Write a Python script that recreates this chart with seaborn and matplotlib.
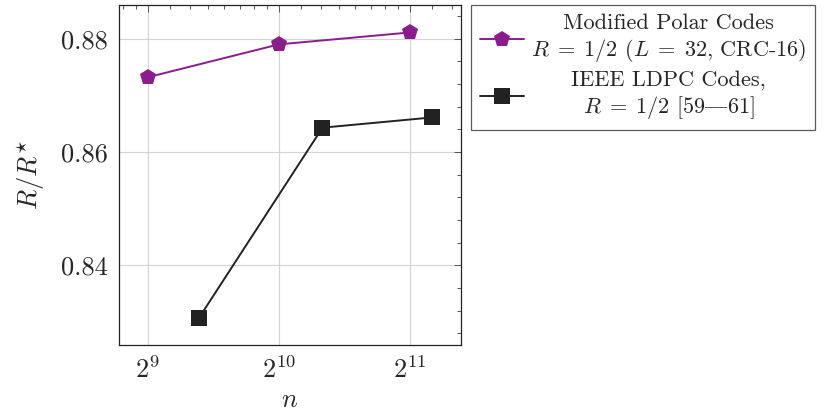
import numpy as np
import pandas as pd
import matplotlib
matplotlib.use("Agg")
import matplotlib.pyplot as plt
import matplotlib.ticker as mticker
from matplotlib import font_manager
from matplotlib.ft2font import FT2Font
from matplotlib.transforms import Affine2D
import seaborn as sns

# data
polar_n = [512, 1024, 2048]
polar_ratio = [0.8732, 0.8790, 0.8811]
ldpc_n = [672, 1290, 2300]
ldpc_ratio = [0.8308, 0.8643, 0.8661]

# find the code point where cmr10 keeps its en dash
cm = FT2Font(font_manager.findfont('cmr10'))
dash = '-'
for code, idx in cm.get_charmap().items():
    if cm.get_glyph_name(idx) == 'endash':
        dash = chr(code)
        break

polar_label = "Modified Polar Codes\n$R\\;=\\;1/2$ ($L\\;=\\;32$, CRC-16)"
ldpc_label = "IEEE LDPC Codes,\n$R\\;=\\;1/2$ [59" + dash + "61]"

sns.set_theme(style="white")
plt.rcParams['font.family'] = ['cmr10', 'DejaVu Serif']
plt.rcParams['mathtext.fontset'] = 'cm'
plt.rcParams['axes.formatter.use_mathtext'] = True

polar_df = pd.DataFrame({'n': polar_n, 'ratio': polar_ratio})
ldpc_df = pd.DataFrame({'n': ldpc_n, 'ratio': ldpc_ratio})

fig = plt.figure(figsize=(8.27, 4.13), dpi=100)
ax = fig.add_axes([119 / 827, 1 - 345.3 / 413, (460.7 - 119) / 827, (345.3 - 4.7) / 413])

sns.lineplot(data=polar_df, x='n', y='ratio', ax=ax, color='#8B1C8B',
             marker='p', markersize=12, markeredgewidth=0, linewidth=1.4,
             label=polar_label)
sns.lineplot(data=ldpc_df, x='n', y='ratio', ax=ax, color='#222222',
             marker='s', markersize=11, markeredgewidth=0, linewidth=1.4,
             label=ldpc_label)

ax.set_xscale('log', base=2)
ax.set_xlim(2 ** 8.78, 2 ** 11.388)
ax.set_ylim(0.8259, 0.8860)
ax.xaxis.set_major_locator(mticker.FixedLocator([512, 1024, 2048]))
ax.xaxis.set_major_formatter(mticker.FuncFormatter(
    lambda v, p: r'$2^{%d}$' % round(np.log2(v))))
ax.xaxis.set_minor_locator(mticker.LogLocator(base=2, subs=np.arange(9, 16) / 8))
ax.xaxis.set_minor_formatter(mticker.NullFormatter())
ax.yaxis.set_major_locator(mticker.FixedLocator([0.84, 0.86, 0.88]))
ax.yaxis.set_major_formatter(mticker.FormatStrFormatter('%.2f'))
ax.yaxis.set_minor_locator(mticker.MultipleLocator(0.004))

ax.grid(True, which='major', color='#d3d3d3', linewidth=0.8)
ax.tick_params(which='both', direction='in', top=True, right=True,
               color='#555555', labelsize=19, width=0.7)
ax.tick_params(which='major', length=5, pad=8)
ax.tick_params(which='minor', length=3)
for s in ax.spines.values():
    s.set_color('#222222')
    s.set_linewidth(0.9)

ax.set_xlabel('$n$', fontsize=19, labelpad=4)
ax.set_ylabel(r'$R/R^{\star}$', fontsize=19, labelpad=10)

leg = ax.legend(loc='upper left', bbox_to_anchor=(471 / 827, 1 - 4.7 / 413),
                bbox_transform=fig.transFigure, fontsize=16,
                frameon=True, fancybox=False, edgecolor='#333333',
                borderaxespad=0, handlelength=2.0, labelspacing=0.3,
                borderpad=0.4, handletextpad=0.3)
leg.get_frame().set_linewidth(0.9)
for t in leg.get_texts():
    t.set_multialignment('center')

# center the narrower label block under the wider one
fig.canvas.draw()
widths = [t.get_window_extent().width for t in leg.get_texts()]
for t, w in zip(leg.get_texts(), widths):
    t.set_transform(t.get_transform() + Affine2D().translate((max(widths) - w) / 2, 0))

fig.savefig('out.png', dpi=100)
plt.close(fig)
